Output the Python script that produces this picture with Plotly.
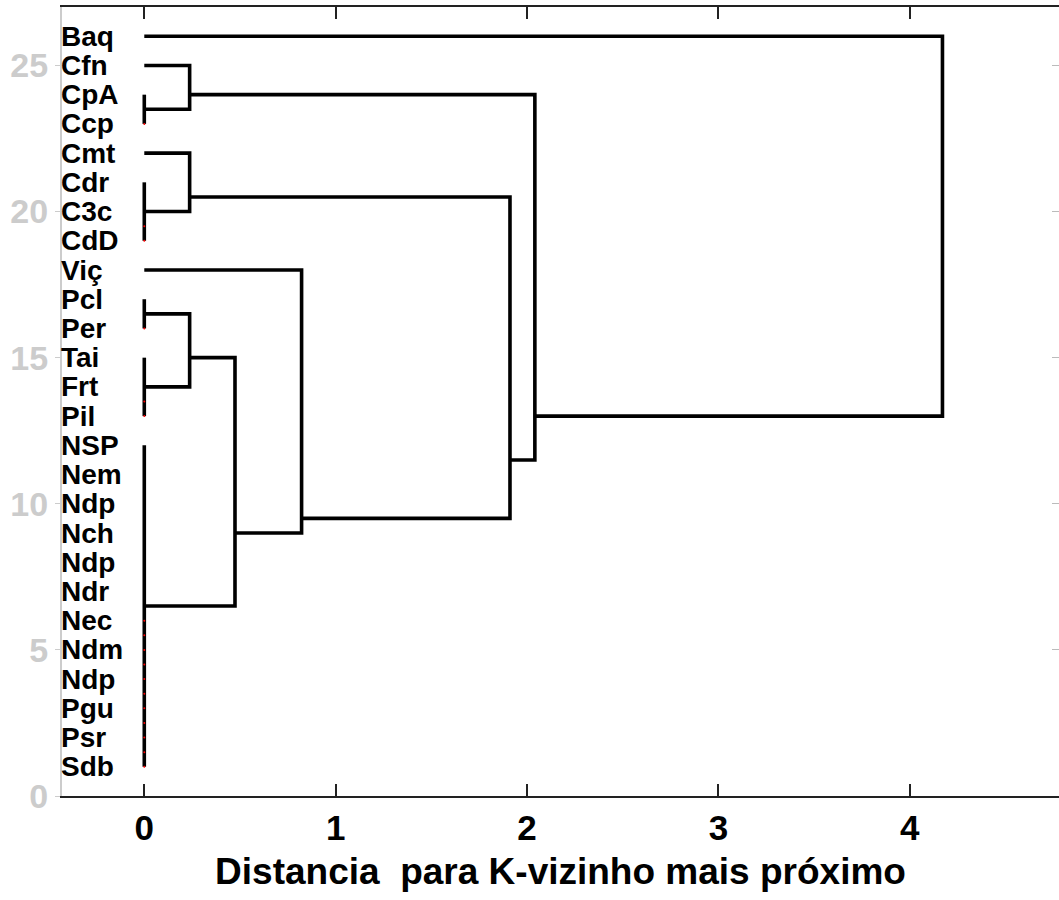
import plotly.graph_objects as go

# ---- data ----
leaves = ["Baq", "Cfn", "CpA", "Ccp", "Cmt", "Cdr", "C3c", "CdD", "Viç", "Pcl",
          "Per", "Tai", "Frt", "Pil", "NSP", "Nem", "Ndp", "Nch", "Ndp", "Ndr",
          "Nec", "Ndm", "Ndp", "Pgu", "Psr", "Sdb"]
leaf_pos = list(range(len(leaves), 0, -1))  # 26 .. 1

# merges: (children ids, height). leaves are 0..25, new nodes numbered from 26
merge_children = [
    [2, 3],
    [5, 6, 7],
    [9, 10],
    [11, 12, 13],
    list(range(14, 26)),
    [1, 26],
    [4, 27],
    [28, 29],
    [33, 30],
    [8, 34],
    [32, 35],
    [31, 36],
    [0, 37],
]
merge_heights = [0, 0, 0, 0, 0, 0.237, 0.237, 0.237, 0.474, 0.822, 1.911, 2.041, 4.171]

red_dot_y = [23, 19.5, 19, 16, 13.5, 13, 6, 5.5, 5, 4.5, 4, 3.5, 3, 2.5, 2, 1.5, 1]

x_ticks = [0, 1, 2, 3, 4]
y_ticks = [0, 5, 10, 15, 20, 25]
x_title = "Distancia \u00a0para K-vizinho mais próximo"

# ---- compute dendrogram geometry ----
n = len(leaves)
node_leaves = {i: [leaf_pos[i]] for i in range(n)}
node_height = {i: 0.0 for i in range(n)}
xs, ys = [], []
for k, (ch, h) in enumerate(zip(merge_children, merge_heights)):
    nid = n + k
    allpos = []
    for c in ch:
        allpos += node_leaves[c]
    node_leaves[nid] = allpos
    node_height[nid] = h
    cpos = [sum(node_leaves[c]) / len(node_leaves[c]) for c in ch]
    if h == 0:
        xs += [0, 0, None]
        ys += [max(cpos), min(cpos), None]
    else:
        c1, c2 = ch[0], ch[1]
        p1 = sum(node_leaves[c1]) / len(node_leaves[c1])
        p2 = sum(node_leaves[c2]) / len(node_leaves[c2])
        xs += [node_height[c1], h, h, node_height[c2], None]
        ys += [p1, p1, p2, p2, None]

FONT = "Liberation Sans, Arial, sans-serif"

fig = go.Figure()
fig.add_trace(go.Scatter(x=xs, y=ys, mode="lines",
                         line=dict(color="black", width=3.6),
                         hoverinfo="skip", showlegend=False))
fig.add_trace(go.Scatter(x=[0] * len(red_dot_y), y=red_dot_y, mode="markers",
                         marker=dict(color="red", size=2), hoverinfo="skip",
                         showlegend=False))
fig.add_trace(go.Scatter(x=[None], y=[None], yaxis="y2", showlegend=False,
                         hoverinfo="skip"))

for name, p in zip(leaves, leaf_pos):
    fig.add_annotation(x=0, xref="paper", y=p, yref="y", text=name,
                       xanchor="left", yanchor="middle", showarrow=False, xshift=-3,
                       font=dict(family=FONT, size=28, color="black", weight="bold"))

fig.update_layout(
    width=1059, height=900,
    margin=dict(l=62, r=0, t=7, b=104),
    plot_bgcolor="white", paper_bgcolor="white",
    xaxis=dict(range=[-0.43, 4.78], tickvals=x_ticks, ticks="inside", ticklen=12,
               tickwidth=2, tickcolor="#222", showline=True, linecolor="#222",
               linewidth=2, mirror="ticks", showgrid=False, zeroline=False,
               tickfont=dict(family=FONT, size=35, color="black", weight="bold"),
               title=dict(text=x_title, standoff=12,
                          font=dict(family=FONT, size=37, color="black", weight="bold"))),
    yaxis=dict(range=[0, 27], tickvals=y_ticks, ticks="outside", ticklen=5,
               tickwidth=1, tickcolor="#cccccc", showline=True, linecolor="#cccccc",
               linewidth=2, showgrid=False, zeroline=False,
               tickfont=dict(family=FONT, size=34, color="#cccccc", weight="bold")),
    yaxis2=dict(range=[0, 27], tickvals=y_ticks, overlaying="y", side="right",
                ticks="inside", ticklen=7, tickwidth=1, tickcolor="#bbbbbb",
                showticklabels=False, showline=False, showgrid=False, zeroline=False),
)

fig.write_html("out.html")
